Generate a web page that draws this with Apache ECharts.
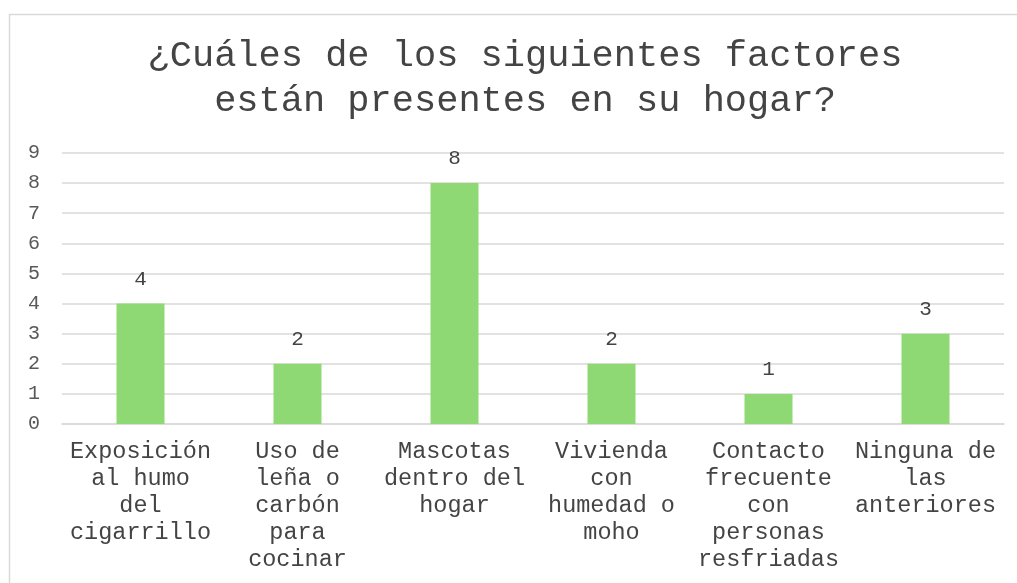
<!DOCTYPE html>
<html>
<head>
<meta charset="utf-8">
<script src="https://cdn.jsdelivr.net/npm/echarts@6/dist/echarts.min.js"></script>
<style>html,body{margin:0;padding:0;background:#fff;}#c{width:1017px;height:583px;}</style>
</head>
<body>
<div id="c"></div>
<script>
const titleText = "¿Cuáles de los siguientes factores\nestán presentes en su hogar?";
const categories = [
  "Exposición\nal humo\ndel\ncigarrillo",
  "Uso de\nleña o\ncarbón\npara\ncocinar",
  "Mascotas\ndentro del\nhogar",
  "Vivienda\ncon\nhumedad o\nmoho",
  "Contacto\nfrecuente\ncon\npersonas\nresfriadas",
  "Ninguna de\nlas\nanteriores"
];
const values = [4, 2, 8, 2, 1, 3];
const yTicks = { min: 0, max: 9, interval: 1 };

const mono = "'Liberation Mono', 'Courier New', monospace";
const chart = echarts.init(document.getElementById('c'));
chart.setOption({
  animation: false,
  backgroundColor: '#fff',
  graphic: [{
    type: 'rect', silent: true,
    shape: { x: 9.5, y: 14.5, width: 1030, height: 600 },
    style: { fill: 'none', stroke: '#d9d9d9', lineWidth: 1.5 }
  }],
  title: {
    text: titleText,
    left: 520, textAlign: 'center', top: 29,
    textStyle: { fontFamily: mono, fontSize: 37, fontWeight: 'normal', color: '#444444', lineHeight: 45 }
  },
  grid: { left: 62, right: 13, top: 153, bottom: 159, containLabel: false },
  xAxis: {
    type: 'category', data: categories,
    axisLine: { lineStyle: { color: '#d9d9d9', width: 1.5 } },
    axisTick: { show: false },
    axisLabel: { interval: 0, margin: 14, fontFamily: mono, fontSize: 23.5, color: '#444444', lineHeight: 27 }
  },
  yAxis: {
    type: 'value', min: yTicks.min, max: yTicks.max, interval: yTicks.interval,
    axisLine: { show: false }, axisTick: { show: false },
    axisLabel: { margin: 22, fontFamily: mono, fontSize: 20, color: '#595959' },
    splitLine: { lineStyle: { color: '#d9d9d9', width: 1.5 } }
  },
  series: [{
    type: 'bar', data: values, barWidth: 48,
    itemStyle: { color: '#8ED973' },
    label: { show: true, position: 'top', distance: 14, fontFamily: mono, fontSize: 21, color: '#444444' }
  }]
});
</script>
</body>
</html>
